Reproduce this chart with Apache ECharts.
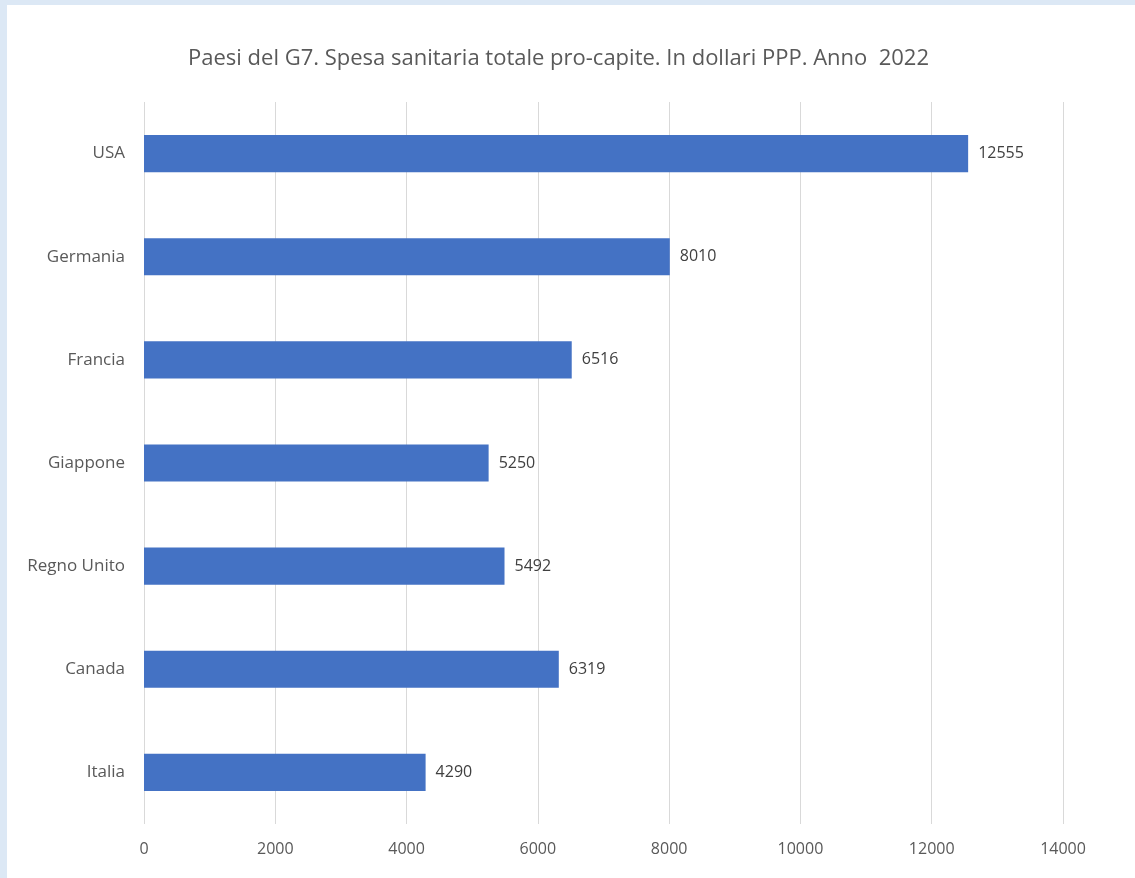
<!DOCTYPE html>
<html>
<head>
<meta charset="utf-8">
<script src="https://cdn.jsdelivr.net/npm/echarts@6/dist/echarts.min.js"></script>
<style>
html,body{margin:0;padding:0;background:#dce8f5;}
#frame{position:absolute;left:7px;top:5px;right:0;bottom:0;background:#ffffff;}
#chart{position:absolute;left:0;top:0;width:1128px;height:873px;}
</style>
</head>
<body>
<div id="frame"><div id="chart"></div></div>
<script>
const titleText = 'Paesi del G7. Spesa sanitaria totale pro-capite. In dollari PPP. Anno  2022';
const categories = ['Italia', 'Canada', 'Regno Unito', 'Giappone', 'Francia', 'Germania', 'USA'];
const values = [4290, 6319, 5492, 5250, 6516, 8010, 12555];
const axisMin = 0, axisMax = 14000, axisStep = 2000;

const chart = echarts.init(document.getElementById('chart'));
const font = '"Open Sans", "Noto Sans", sans-serif';
chart.setOption({
  animation: false,
  backgroundColor: '#ffffff',
  graphic: [{
    type: 'text', left: 181, top: 43,
    style: {text: titleText, font: '22px "Open Sans", sans-serif', fill: '#595959'}
  }],
  grid: {left: 137, right: 72, top: 97, bottom: 54, containLabel: false},
  xAxis: {
    type: 'value', min: axisMin, max: axisMax, interval: axisStep,
    axisLine: {show: false}, axisTick: {show: false},
    splitLine: {lineStyle: {color: '#d9d9d9', width: 1}},
    axisLabel: {fontFamily: font, fontSize: 16, color: '#595959', margin: 17, formatter: v => String(v)}
  },
  yAxis: {
    type: 'category', data: categories,
    axisLine: {show: false}, axisTick: {show: false},
    axisLabel: {fontFamily: font, fontSize: 17, color: '#595959', margin: 19}
  },
  series: [{
    type: 'bar', data: values, barWidth: '36%',
    itemStyle: {color: '#4472c4'},
    label: {show: true, position: 'right', distance: 10, fontFamily: font, fontSize: 16, color: '#404040'}
  }]
});
</script>
</body>
</html>
